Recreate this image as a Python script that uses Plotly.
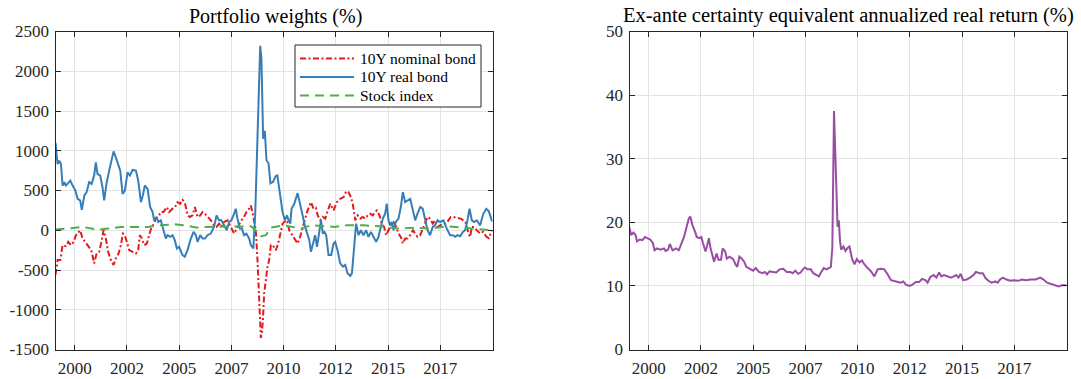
import plotly.graph_objects as go

# ---------------- data ----------------
x_tick_vals = [2000, 2002.5, 2005, 2007.5, 2010, 2012.5, 2015, 2017.5]
x_tick_text = ["2000", "2002", "2005", "2007", "2010", "2012", "2015", "2017"]
left_y_ticks = [-1500, -1000, -500, 0, 500, 1000, 1500, 2000, 2500]
left_y_text = ["-1500", "-1000", "-500", "0", "500", "1000", "1500", "2000", "2500"]
right_y_ticks = [0, 10, 20, 30, 40, 50]
series_names = ["10Y nominal bond", "10Y real bond", "Stock index"]

nom_years = [1999.08, 1999.18, 1999.31, 1999.42, 1999.58, 1999.69, 1999.82, 1999.95, 2000.06, 2000.17,
             2000.26, 2000.38, 2000.50, 2000.62, 2000.73, 2000.81, 2000.93, 2001.05, 2001.17, 2001.28,
             2001.38, 2001.49, 2001.60, 2001.73, 2001.86, 2001.97, 2002.10, 2002.21, 2002.31, 2002.40,
             2002.50, 2002.61, 2002.77, 2002.93, 2003.04, 2003.12, 2003.21, 2003.33, 2003.45, 2003.57,
             2003.68, 2003.80, 2003.88, 2004.00, 2004.12, 2004.25, 2004.41, 2004.52, 2004.68, 2004.79,
             2004.92, 2005.05, 2005.16, 2005.27, 2005.40, 2005.51, 2005.64, 2005.75, 2005.88, 2006.01,
             2006.12, 2006.23, 2006.36, 2006.52, 2006.67, 2006.79, 2006.91, 2007.02, 2007.15, 2007.31,
             2007.47, 2007.63, 2007.76, 2007.87, 2007.98, 2008.11, 2008.22, 2008.35, 2008.43, 2008.51,
             2008.59, 2008.67, 2008.75, 2008.83, 2008.91, 2008.96, 2009.01, 2009.07, 2009.15, 2009.23,
             2009.31, 2009.39, 2009.47, 2009.55, 2009.63, 2009.74, 2009.87, 2009.95, 2010.03, 2010.16,
             2010.27, 2010.38, 2010.51, 2010.67, 2010.79, 2010.91, 2011.03, 2011.15, 2011.31, 2011.43,
             2011.55, 2011.63, 2011.76, 2011.88, 2011.99, 2012.12, 2012.23, 2012.39, 2012.55, 2012.71,
             2012.87, 2013.00, 2013.11, 2013.22, 2013.31, 2013.43, 2013.54, 2013.67, 2013.79, 2013.90,
             2014.02, 2014.14, 2014.27, 2014.38, 2014.46, 2014.59, 2014.70, 2014.81, 2014.91, 2015.02,
             2015.13, 2015.26, 2015.39, 2015.50, 2015.61, 2015.71, 2015.82, 2015.93, 2016.06, 2016.19,
             2016.30, 2016.41, 2016.54, 2016.66, 2016.78, 2016.89, 2017.01, 2017.14, 2017.25, 2017.37,
             2017.49, 2017.65, 2017.78, 2017.89, 2018.00, 2018.13, 2018.26, 2018.37, 2018.48, 2018.61,
             2018.74, 2018.85, 2018.93, 2019.01, 2019.12, 2019.25, 2019.41, 2019.55, 2019.70, 2019.82,
             2019.98]
nom_vals = [-562, -375, -375, -187, -200, -146, -187, -146, -62, -21,
            0, -104, -146, -187, -229, -271, -417, -292, -271, -146,
            0, -104, -271, -375, -437, -354, -292, -187, -42, -62,
            -146, -250, -271, -292, -250, -62, -104, -187, -167, -42,
            42, 83, 146, 167, 229, 229, 292, 229, 271, 283,
            354, 333, 383, 354, 187, 167, 187, 292, 167, 187,
            229, 208, 167, 125, 62, 42, 83, 42, 104, 125,
            42, -42, 21, 83, 125, 167, 229, 271, 312, 229,
            125, 0, -375, -917, -1354, -1292, -1125, -792, -583, -458,
            -375, -187, -187, -229, -250, -167, -21, 83, 104, 125,
            0, -42, -104, -167, -83, 42, 146, 250, 354, 271,
            283, 187, 125, 167, 146, 250, 333, 250, 354, 396,
            417, 492, 479, 417, 333, 125, 187, 146, 167, 146,
            187, 208, 187, 229, 250, 187, 83, 42, -62, 0,
            62, 104, 42, -42, -83, -167, -104, -104, -62, 0,
            -42, -83, -62, 21, 83, 167, 146, 83, 125, 42,
            62, 83, 83, 125, 167, 167, 158, 146, 146, 125,
            83, -42, -83, 42, 42, 0, -42, -20, -80, -100,
            0]

real_years = [1999.08, 1999.18, 1999.26, 1999.34, 1999.42, 1999.50, 1999.58, 1999.66, 1999.79, 1999.90,
              2000.03, 2000.14, 2000.26, 2000.34, 2000.46, 2000.57, 2000.69, 2000.81, 2000.93, 2001.01,
              2001.09, 2001.22, 2001.33, 2001.41, 2001.52, 2001.65, 2001.86, 2001.97, 2002.18, 2002.29,
              2002.40, 2002.53, 2002.64, 2002.77, 2002.93, 2003.04, 2003.17, 2003.26, 2003.36, 2003.49,
              2003.61, 2003.73, 2003.80, 2003.92, 2004.00, 2004.12, 2004.24, 2004.36, 2004.44, 2004.57,
              2004.68, 2004.79, 2004.89, 2005.00, 2005.16, 2005.27, 2005.40, 2005.56, 2005.69, 2005.80,
              2005.88, 2006.01, 2006.12, 2006.23, 2006.36, 2006.51, 2006.67, 2006.79, 2006.91, 2007.02,
              2007.15, 2007.28, 2007.39, 2007.50, 2007.63, 2007.71, 2007.79, 2007.90, 2008.00, 2008.11,
              2008.22, 2008.35, 2008.43, 2008.55, 2008.64, 2008.72, 2008.80, 2008.88, 2008.94, 2009.02,
              2009.10, 2009.18, 2009.28, 2009.37, 2009.50, 2009.62, 2009.70, 2009.77, 2009.85, 2009.95,
              2010.06, 2010.16, 2010.24, 2010.32, 2010.38, 2010.51, 2010.67, 2010.77, 2010.83, 2010.91,
              2011.03, 2011.12, 2011.23, 2011.31, 2011.43, 2011.51, 2011.60, 2011.71, 2011.79, 2011.88,
              2011.96, 2012.04, 2012.15, 2012.28, 2012.39, 2012.47, 2012.58, 2012.71, 2012.84, 2012.95,
              2013.06, 2013.19, 2013.27, 2013.35, 2013.47, 2013.59, 2013.70, 2013.82, 2013.95, 2014.06,
              2014.18, 2014.30, 2014.43, 2014.54, 2014.65, 2014.75, 2014.86, 2014.94, 2015.02, 2015.10,
              2015.18, 2015.26, 2015.37, 2015.50, 2015.61, 2015.71, 2015.82, 2015.93, 2016.06, 2016.19,
              2016.30, 2016.41, 2016.54, 2016.66, 2016.78, 2016.89, 2017.01, 2017.14, 2017.25, 2017.37,
              2017.49, 2017.65, 2017.81, 2017.97, 2018.10, 2018.21, 2018.32, 2018.45, 2018.58, 2018.69,
              2018.77, 2018.90, 2019.01, 2019.12, 2019.25, 2019.41, 2019.55, 2019.70, 2019.82, 2019.98]
real_vals = [1100, 833, 875, 833, 562, 604, 562, 583, 625, 562,
             500, 396, 375, 258, 437, 479, 604, 583, 687, 854,
             708, 687, 541, 375, 583, 750, 992, 917, 750, 458,
             500, 729, 687, 758, 750, 625, 354, 437, 562, 521,
             292, 229, 125, 167, 104, 125, 0, -104, -62, -83,
             -62, -125, -229, -208, -312, -333, -250, -104, -21, -62,
             -146, -62, -104, -104, -62, -42, 42, 187, 125, 125,
             62, 0, 104, 125, 208, 271, 146, 21, 21, -62,
             -42, -104, -187, -229, 200, 900, 1700, 2320, 2150, 1150,
             1250, 880, 840, 590, 610, 680, 690, 560, 370, 229,
             125, 187, 125, 83, 271, 333, 467, 333, 271, 187,
             42, -42, -125, -271, -125, -62, -208, 21, 125, -42,
             -21, -62, -312, -312, -167, -146, -250, -417, -458, -437,
             -542, -575, -542, -292, 83, -62, 0, -62, 0, -83,
             -21, -83, -146, -83, 42, 146, 208, 333, 125, 62,
             104, 0, 104, 146, 292, 479, 354, 375, 396, 250,
             125, 208, 292, 271, 104, 0, -62, 42, 62, 125,
             104, 125, 21, -62, -62, -83, -62, -75, -21, 0,
             83, 271, 125, 104, 125, 62, 200, 270, 240, 110]

stock_years = [1999.08, 1999.50, 2000.00, 2000.40, 2000.80, 2001.17, 2001.60, 2002.20, 2002.80, 2003.50,
               2004.00, 2004.76, 2005.20, 2005.88, 2006.36, 2006.90, 2007.63, 2008.43, 2008.75, 2008.91,
               2009.15, 2009.39, 2010.03, 2010.50, 2010.83, 2011.31, 2011.79, 2012.44, 2013.00, 2013.50,
               2013.82, 2014.62, 2015.42, 2016.22, 2017.01, 2017.81, 2018.61, 2019.41, 2019.98]
stock_vals = [8, 20, 29, 42, 21, 8, 21, 42, 42, 42,
              62, 75, 62, 33, 42, 42, 42, 50, -21, -75,
              -62, 33, 62, 42, 21, 62, 50, 42, 62, 65,
              62, 50, 21, 33, 21, 50, 33, 21, 0]

ce_years = [1999.08, 1999.16, 1999.27, 1999.37, 1999.44, 1999.57, 1999.70, 1999.82, 1999.93, 2000.07,
            2000.20, 2000.28, 2000.40, 2000.56, 2000.73, 2000.81, 2000.93, 2001.01, 2001.14, 2001.31,
            2001.44, 2001.56, 2001.69, 2001.80, 2001.92, 2001.99, 2002.09, 2002.22, 2002.30, 2002.42,
            2002.52, 2002.60, 2002.72, 2002.80, 2002.88, 2002.96, 2003.13, 2003.25, 2003.34, 2003.46,
            2003.54, 2003.66, 2003.74, 2003.87, 2004.04, 2004.17, 2004.24, 2004.34, 2004.45, 2004.57,
            2004.67, 2004.78, 2004.90, 2005.00, 2005.12, 2005.28, 2005.45, 2005.56, 2005.66, 2005.78,
            2005.94, 2006.11, 2006.27, 2006.44, 2006.61, 2006.77, 2006.89, 2007.02, 2007.15, 2007.27,
            2007.38, 2007.48, 2007.60, 2007.76, 2007.88, 2008.01, 2008.15, 2008.26, 2008.38, 2008.51,
            2008.64, 2008.72, 2008.79, 2008.87, 2009.04, 2009.10, 2009.16, 2009.21, 2009.32, 2009.42,
            2009.53, 2009.61, 2009.74, 2009.85, 2009.96, 2010.09, 2010.21, 2010.32, 2010.48, 2010.64,
            2010.80, 2010.96, 2011.12, 2011.28, 2011.44, 2011.60, 2011.84, 2012.07, 2012.19, 2012.31,
            2012.47, 2012.63, 2012.79, 2012.95, 2013.08, 2013.24, 2013.35, 2013.48, 2013.64, 2013.77,
            2013.90, 2014.01, 2014.14, 2014.30, 2014.47, 2014.60, 2014.72, 2014.83, 2014.93, 2015.05,
            2015.22, 2015.38, 2015.55, 2015.66, 2015.83, 2015.99, 2016.13, 2016.26, 2016.42, 2016.59,
            2016.70, 2016.82, 2016.95, 2017.12, 2017.32, 2017.48, 2017.70, 2017.86, 2018.07, 2018.28,
            2018.53, 2018.74, 2018.90, 2019.07, 2019.27, 2019.47, 2019.63, 2019.77, 2019.98]
ce_vals = [19.2, 18.0, 18.4, 18.0, 17.0, 17.3, 17.2, 17.7, 17.5, 17.3,
           16.7, 15.6, 15.9, 15.7, 15.9, 15.5, 15.7, 16.6, 15.6, 15.9,
           15.6, 16.7, 17.7, 19.1, 20.6, 20.9, 19.6, 18.5, 17.7, 17.5,
           17.7, 16.7, 15.4, 16.4, 17.5, 15.9, 13.8, 15.1, 14.1, 14.1,
           15.9, 15.4, 14.3, 14.6, 14.2, 13.3, 13.0, 14.6, 14.3, 13.8,
           13.0, 12.8, 12.6, 12.4, 12.8, 12.2, 12.0, 12.2, 11.8, 12.3,
           12.2, 12.1, 12.6, 12.7, 12.2, 12.2, 12.0, 12.4, 11.9, 12.1,
           12.6, 12.9, 12.6, 12.6, 12.0, 11.7, 11.5, 12.2, 12.8, 12.6,
           12.8, 13.0, 16.0, 37.5, 19.3, 20.3, 17.0, 15.7, 16.2, 15.5,
           16.0, 16.2, 14.2, 13.4, 14.2, 13.7, 14.0, 13.4, 12.8, 12.3,
           11.5, 12.6, 12.7, 12.6, 11.8, 10.9, 10.7, 10.5, 10.7, 10.2,
           10.0, 10.2, 10.6, 10.6, 11.1, 10.9, 10.5, 11.4, 11.7, 11.3,
           12.1, 11.5, 11.7, 11.5, 11.3, 11.5, 11.7, 11.3, 11.9, 10.9,
           11.0, 11.3, 11.7, 12.2, 12.0, 12.0, 11.2, 10.8, 10.5, 10.7,
           10.5, 11.0, 11.3, 11.0, 10.8, 10.9, 10.8, 11.0, 10.9, 11.0,
           11.0, 11.3, 11.0, 10.5, 10.3, 10.1, 9.9, 10.1, 10.1]

# ---------------- figure ----------------
W, H = 1081, 379
FONT = "Liberation Serif"
AX_COL = "#262626"
GRID_COL = "#e3e3e3"
COLORS = ["#e41a1c", "#377eb8", "#4daf4a"]
DASHES = ["6px,2.5px,2px,2.5px", "solid", "9px,6px"]

fig = go.Figure()
for name, xs, ys, col, dsh in zip(series_names,
                                  [nom_years, real_years, stock_years],
                                  [nom_vals, real_vals, stock_vals], COLORS, DASHES):
    fig.add_trace(go.Scatter(x=xs, y=ys, mode="lines", name=name, showlegend=False,
                             line=dict(color=col, width=2, dash=dsh),
                             xaxis="x", yaxis="y"))
fig.add_trace(go.Scatter(x=ce_years, y=ce_vals, mode="lines", showlegend=False,
                         name="Certainty equivalent",
                         line=dict(color="#984ea3", width=2),
                         xaxis="x2", yaxis="y2"))

x_range = [1999.08, 2020.0]
common = dict(showline=True, linecolor=AX_COL, linewidth=1, mirror="ticks",
              ticks="inside", ticklen=5, tickcolor=AX_COL, tickwidth=1,
              showgrid=True, gridcolor=GRID_COL, gridwidth=1, zeroline=False,
              automargin=False,
              tickfont=dict(family=FONT, size=17, color=AX_COL))

# legend box (drawn in pixel-based paper coordinates, like the reference)
def px(xp):
    return xp / W


def py(yp):
    return 1 - yp / H


shapes = [dict(type="rect", xref="paper", yref="paper", x0=px(295), x1=px(481),
               y0=py(107), y1=py(45), fillcolor="white",
               line=dict(color=AX_COL, width=1), layer="above")]
annotations = []
row_y = [58.5, 77, 95.5]
for name, col, dsh, ry in zip(series_names, COLORS, DASHES, row_y):
    shapes.append(dict(type="line", xref="paper", yref="paper", x0=px(300), x1=px(354),
                       y0=py(ry), y1=py(ry), line=dict(color=col, width=2, dash=dsh),
                       layer="above"))
    annotations.append(dict(text=name, x=px(358), y=py(ry), xref="paper", yref="paper",
                            xanchor="left", yanchor="middle", showarrow=False,
                            font=dict(family=FONT, size=15.5, color="#000000")))

annotations += [
    dict(text="Portfolio weights (%)", x=px(275), y=py(16), xref="paper", yref="paper",
         xanchor="center", yanchor="middle", showarrow=False,
         font=dict(family=FONT, size=20, color="#000000")),
    dict(text="Ex-ante certainty equivalent annualized real return (%)", x=px(848), y=py(15),
         xref="paper", yref="paper", xanchor="center", yanchor="middle", showarrow=False,
         font=dict(family=FONT, size=20.5, color="#000000")),
]

y_dom = [py(349.5), py(31.5)]
fig.update_layout(
    template="none",
    width=W, height=H,
    margin=dict(l=0, r=0, t=0, b=0, pad=0, autoexpand=False),
    paper_bgcolor="white", plot_bgcolor="white",
    xaxis=dict(domain=[px(55.5), px(492.5)], range=x_range, tickmode="array",
               tickvals=x_tick_vals, ticktext=x_tick_text, anchor="y",
               ticklabelstandoff=3, **common),
    yaxis=dict(domain=y_dom, range=[-1500, 2500], tickmode="array",
               tickvals=left_y_ticks, ticktext=left_y_text, anchor="x",
               ticklabelstandoff=2, **common),
    xaxis2=dict(domain=[px(629.5), px(1066.5)], range=x_range, tickmode="array",
                tickvals=x_tick_vals, ticktext=x_tick_text, anchor="y2",
                ticklabelstandoff=3, **common),
    yaxis2=dict(domain=y_dom, range=[0, 50], tickmode="array",
                tickvals=right_y_ticks, anchor="x2", ticklabelstandoff=2, **common),
    showlegend=False,
    shapes=shapes,
    annotations=annotations,
)

fig.write_html("out.html")
